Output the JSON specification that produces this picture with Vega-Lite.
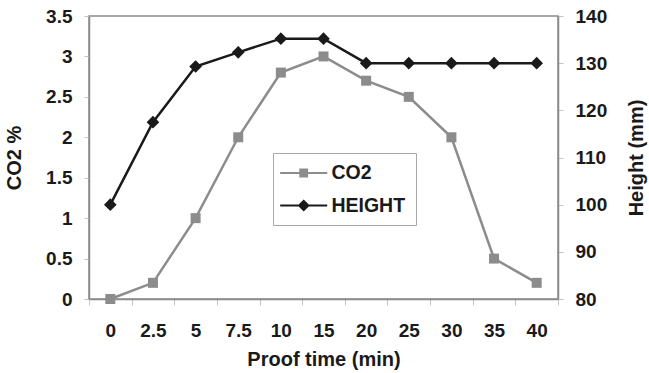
{
  "$schema": "https://vega.github.io/schema/vega-lite/v6.json",
  "width": 469,
  "height": 283,
  "autosize": {"type": "none"},
  "padding": {"left": 89, "top": 16, "right": 91, "bottom": 74},
  "background": "white",
  "config": {
    "view": {"stroke": "#8a8a8a", "strokeWidth": 1.5},
    "font": "Liberation Sans",
    "axis": {
      "labelFont": "Liberation Sans", "labelFontSize": 19, "labelFontWeight": "bold", "labelColor": "#1a1a1a",
      "titleFont": "Liberation Sans", "titleFontSize": 20, "titleFontWeight": "bold", "titleColor": "#1a1a1a",
      "domainColor": "#8a8a8a", "domainWidth": 1.5, "tickColor": "#c4c4c4", "grid": false
    }
  },
  "data": {"values": [
    {"t": "0", "series": "CO2", "value": 0},
    {"t": "2.5", "series": "CO2", "value": 0.2},
    {"t": "5", "series": "CO2", "value": 1},
    {"t": "7.5", "series": "CO2", "value": 2},
    {"t": "10", "series": "CO2", "value": 2.8},
    {"t": "15", "series": "CO2", "value": 3},
    {"t": "20", "series": "CO2", "value": 2.7},
    {"t": "25", "series": "CO2", "value": 2.5},
    {"t": "30", "series": "CO2", "value": 2},
    {"t": "35", "series": "CO2", "value": 0.5},
    {"t": "40", "series": "CO2", "value": 0.2},
    {"t": "0", "series": "HEIGHT", "value": 100},
    {"t": "2.5", "series": "HEIGHT", "value": 117.5},
    {"t": "5", "series": "HEIGHT", "value": 129.3},
    {"t": "7.5", "series": "HEIGHT", "value": 132.3},
    {"t": "10", "series": "HEIGHT", "value": 135.2},
    {"t": "15", "series": "HEIGHT", "value": 135.2},
    {"t": "20", "series": "HEIGHT", "value": 130},
    {"t": "25", "series": "HEIGHT", "value": 130},
    {"t": "30", "series": "HEIGHT", "value": 130},
    {"t": "35", "series": "HEIGHT", "value": 130},
    {"t": "40", "series": "HEIGHT", "value": 130}
  ]},
  "encoding": {
    "x": {
      "field": "t", "type": "ordinal",
      "scale": {"type": "band", "domain": ["0", "2.5", "5", "7.5", "10", "15", "20", "25", "30", "35", "40"], "paddingInner": 0, "paddingOuter": 0},
      "axis": {"title": "Proof time (min)", "labelAngle": 0, "tickBand": "extent", "tickSize": 6, "labelPadding": 16, "titlePadding": 9}
    }
  },
  "layer": [
    {
      "transform": [{"filter": "datum.series === 'CO2'"}],
      "encoding": {
        "y": {
          "field": "value", "type": "quantitative",
          "scale": {"domain": [0, 3.5]},
          "axis": {"title": "CO2 %", "orient": "left", "values": [0, 0.5, 1, 1.5, 2, 2.5, 3, 3.5], "format": "~g", "tickSize": 5, "labelPadding": 12, "titlePadding": 21}
        }
      },
      "layer": [
        {"mark": {"type": "line", "color": "#8c8c8c", "strokeWidth": 2.5}},
        {"mark": {"type": "point", "shape": "square", "filled": true, "size": 100, "color": "#8c8c8c", "opacity": 1}},
        {
          "mark": {"type": "point", "filled": true, "opacity": 0, "size": 384},
          "encoding": {
            "shape": {
              "field": "series", "type": "nominal",
              "scale": {"domain": ["CO2", "HEIGHT"], "range": ["M-2.4,-0.11H2.4V0.11H-2.4Z M-0.45,-0.45H0.45V0.45H-0.45Z", "M-2.4,-0.11H2.4V0.11H-2.4Z M0,-0.62L0.62,0L0,0.62L-0.62,0Z"]},
              "legend": {"title": null, "orient": "none", "legendX": 184, "legendY": 137, "padding": 10, "symbolOffset": 10.7, "fillColor": "white", "strokeColor": "#a8a8a8", "labelFont": "Liberation Sans", "labelFontSize": 19.5, "labelFontWeight": "bold", "labelColor": "#1a1a1a", "rowPadding": 12.5, "labelOffset": 17.7, "symbolSize": 384, "symbolStrokeWidth": 0, "symbolOpacity": 1}
            },
            "color": {
              "field": "series", "type": "nominal",
              "scale": {"domain": ["CO2", "HEIGHT"], "range": ["#8c8c8c", "#1a1a1a"]},
              "legend": {"title": null, "orient": "none", "legendX": 184, "legendY": 137, "padding": 10, "symbolOffset": 10.7, "fillColor": "white", "strokeColor": "#a8a8a8", "labelFont": "Liberation Sans", "labelFontSize": 19.5, "labelFontWeight": "bold", "labelColor": "#1a1a1a", "rowPadding": 12.5, "labelOffset": 17.7, "symbolSize": 384, "symbolStrokeWidth": 0, "symbolOpacity": 1}
            }
          }
        }
      ]
    },
    {
      "transform": [{"filter": "datum.series === 'HEIGHT'"}],
      "encoding": {
        "y": {
          "field": "value", "type": "quantitative",
          "scale": {"domain": [80, 140]},
          "axis": {"title": "Height (mm)", "orient": "right", "values": [80, 90, 100, 110, 120, 130, 140], "tickSize": 5, "labelPadding": 12, "titlePadding": 40, "titleAngle": 270}
        }
      },
      "layer": [
        {"mark": {"type": "line", "color": "#1a1a1a", "strokeWidth": 2.5}},
        {"mark": {"type": "point", "shape": "diamond", "filled": true, "size": 160, "color": "#1a1a1a", "opacity": 1}}
      ]
    }
  ],
  "resolve": {"scale": {"y": "independent"}}
}
